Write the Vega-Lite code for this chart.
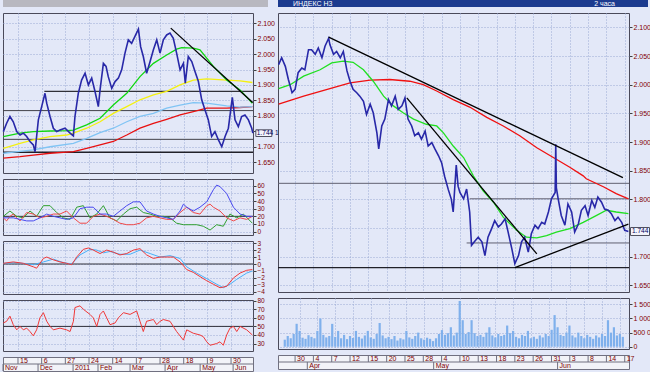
{
"$schema":"https://vega.github.io/schema/vega-lite/v6.json",
"background":"#e3e8f8",
"padding":{"left":-1,"top":-3,"right":0,"bottom":0},
"autosize":{"type":"pad"},
"config":{
 "font":"Liberation Sans",
 "view":{"fill":"#e3e8f8","stroke":"#4a4a5a","strokeWidth":1},
 "axis":{"labelColor":"#800000","labelFontSize":7,"labelFont":"Liberation Sans","tickSize":3,"tickColor":"#404040","gridColor":"#9aaad4","gridDash":[1,2],"gridOpacity":1,"domain":false,"labelPadding":1,"labelOverlap":false,"labelBound":false},
 "axisX":{"labels":false,"ticks":false,"grid":true},
 "axisY":{"grid":true},
 "line":{"strokeWidth":1,"clip":true},
 "rule":{"clip":true}
},
"datasets":{
 "lp":[{"t":-9.3,"v":1.749},{"t":-7.2,"v":1.776},{"t":-5.1,"v":1.798},{"t":-3.0,"v":1.781},{"t":-0.8,"v":1.749},{"t":1.3,"v":1.738},{"t":3.4,"v":1.744},{"t":5.5,"v":1.733},{"t":7.6,"v":1.717},{"t":9.7,"v":1.706},{"t":10.8,"v":1.684},{"t":11.8,"v":1.733},{"t":12.9,"v":1.787},{"t":15.0,"v":1.830},{"t":17.1,"v":1.873},{"t":18.2,"v":1.841},{"t":20.3,"v":1.798},{"t":22.4,"v":1.760},{"t":24.5,"v":1.749},{"t":26.6,"v":1.754},{"t":29.8,"v":1.760},{"t":33.0,"v":1.744},{"t":35.1,"v":1.735},{"t":36.1,"v":1.798},{"t":38.2,"v":1.873},{"t":40.3,"v":1.916},{"t":42.5,"v":1.938},{"t":44.6,"v":1.900},{"t":46.7,"v":1.922},{"t":48.8,"v":1.879},{"t":50.9,"v":1.830},{"t":52.0,"v":1.884},{"t":54.1,"v":1.970},{"t":55.8,"v":1.960},{"t":57.2,"v":1.927},{"t":59.4,"v":1.889},{"t":61.5,"v":1.911},{"t":63.6,"v":1.922},{"t":65.7,"v":1.949},{"t":67.8,"v":2.003},{"t":69.9,"v":2.046},{"t":72.0,"v":2.035},{"t":74.1,"v":2.057},{"t":76.3,"v":2.081},{"t":77.7,"v":2.024},{"t":79.4,"v":1.992},{"t":81.5,"v":1.938},{"t":83.7,"v":1.976},{"t":85.8,"v":2.014},{"t":87.9,"v":2.046},{"t":90.0,"v":2.003},{"t":92.1,"v":2.046},{"t":94.2,"v":2.062},{"t":96.3,"v":2.068},{"t":98.4,"v":2.051},{"t":100.5,"v":2.003},{"t":102.7,"v":1.949},{"t":104.8,"v":1.970},{"t":106.0,"v":1.906},{"t":107.9,"v":1.992},{"t":110.1,"v":1.976},{"t":112.2,"v":1.943},{"t":114.3,"v":1.911},{"t":116.4,"v":1.852},{"t":118.5,"v":1.819},{"t":120.6,"v":1.787},{"t":122.7,"v":1.733},{"t":124.8,"v":1.749},{"t":127.0,"v":1.722},{"t":129.1,"v":1.700},{"t":131.2,"v":1.733},{"t":133.3,"v":1.760},{"t":135.8,"v":1.860},{"t":137.5,"v":1.787},{"t":139.6,"v":1.765},{"t":141.7,"v":1.798},{"t":143.8,"v":1.803},{"t":146.0,"v":1.787},{"t":148.1,"v":1.760},{"t":148.8,"v":1.744}],
 "lg":[{"t":-9.3,"v":1.733},{"t":1.3,"v":1.744},{"t":9.7,"v":1.749},{"t":20.3,"v":1.751},{"t":30.8,"v":1.752},{"t":35.1,"v":1.754},{"t":43.5,"v":1.771},{"t":52.0,"v":1.792},{"t":60.4,"v":1.835},{"t":68.9,"v":1.873},{"t":77.3,"v":1.927},{"t":85.8,"v":1.970},{"t":94.2,"v":1.997},{"t":100.5,"v":2.016},{"t":103.7,"v":2.021},{"t":111.1,"v":2.019},{"t":115.3,"v":2.014},{"t":123.8,"v":1.960},{"t":132.2,"v":1.916},{"t":140.7,"v":1.884},{"t":148.5,"v":1.841}],
 "ly":[{"t":-9.3,"v":1.695},{"t":1.3,"v":1.711},{"t":9.7,"v":1.722},{"t":20.3,"v":1.733},{"t":30.8,"v":1.738},{"t":35.1,"v":1.744},{"t":43.5,"v":1.760},{"t":52.0,"v":1.781},{"t":60.4,"v":1.808},{"t":68.9,"v":1.830},{"t":77.3,"v":1.852},{"t":85.8,"v":1.868},{"t":94.2,"v":1.879},{"t":102.7,"v":1.900},{"t":111.1,"v":1.916},{"t":119.6,"v":1.920},{"t":132.2,"v":1.916},{"t":140.7,"v":1.913},{"t":148.5,"v":1.908}],
 "lb":[{"t":-9.3,"v":1.679},{"t":9.7,"v":1.690},{"t":20.3,"v":1.700},{"t":35.1,"v":1.711},{"t":43.5,"v":1.727},{"t":52.0,"v":1.746},{"t":60.4,"v":1.760},{"t":68.9,"v":1.781},{"t":77.3,"v":1.798},{"t":85.8,"v":1.808},{"t":94.2,"v":1.825},{"t":102.7,"v":1.835},{"t":111.1,"v":1.843},{"t":119.6,"v":1.841},{"t":132.2,"v":1.832},{"t":140.7,"v":1.828},{"t":148.5,"v":1.830}],
 "lr":[{"t":-9.3,"v":1.663},{"t":1.3,"v":1.668},{"t":9.7,"v":1.673},{"t":20.3,"v":1.679},{"t":35.1,"v":1.684},{"t":43.5,"v":1.695},{"t":52.0,"v":1.706},{"t":60.4,"v":1.717},{"t":68.9,"v":1.738},{"t":77.3,"v":1.760},{"t":85.8,"v":1.776},{"t":94.2,"v":1.789},{"t":102.7,"v":1.803},{"t":111.1,"v":1.814},{"t":119.6,"v":1.825},{"t":132.2,"v":1.825},{"t":140.7,"v":1.827},{"t":148.5,"v":1.830}],
 "osb":[{"t":-9.3,"v":18},{"t":-3.0,"v":18},{"t":1.3,"v":16},{"t":5.5,"v":14},{"t":9.7,"v":14},{"t":13.9,"v":18},{"t":18.2,"v":23},{"t":22.4,"v":20},{"t":26.6,"v":18},{"t":30.8,"v":16},{"t":35.1,"v":18},{"t":39.3,"v":30},{"t":43.5,"v":32},{"t":47.7,"v":32},{"t":52.0,"v":23},{"t":56.2,"v":23},{"t":60.4,"v":20},{"t":64.6,"v":27},{"t":68.9,"v":34},{"t":73.1,"v":39},{"t":77.3,"v":39},{"t":81.5,"v":27},{"t":85.8,"v":23},{"t":90.0,"v":20},{"t":94.2,"v":18},{"t":98.4,"v":16},{"t":102.7,"v":27},{"t":104.8,"v":36},{"t":106.9,"v":32},{"t":111.1,"v":27},{"t":115.3,"v":32},{"t":119.6,"v":39},{"t":123.8,"v":55},{"t":125.9,"v":61},{"t":128.0,"v":59},{"t":132.2,"v":50},{"t":136.5,"v":32},{"t":140.7,"v":23},{"t":144.9,"v":20},{"t":148.5,"v":20}],
 "osr":[{"t":-9.3,"v":18},{"t":-7.2,"v":14},{"t":-5.1,"v":20},{"t":-3.0,"v":23},{"t":-0.8,"v":18},{"t":1.3,"v":14},{"t":5.5,"v":25},{"t":9.7,"v":23},{"t":13.9,"v":18},{"t":18.2,"v":20},{"t":22.4,"v":23},{"t":26.6,"v":23},{"t":30.8,"v":27},{"t":35.1,"v":18},{"t":39.3,"v":11},{"t":43.5,"v":11},{"t":47.7,"v":20},{"t":52.0,"v":23},{"t":56.2,"v":20},{"t":60.4,"v":16},{"t":64.6,"v":11},{"t":68.9,"v":9},{"t":73.1,"v":9},{"t":77.3,"v":11},{"t":81.5,"v":18},{"t":85.8,"v":20},{"t":90.0,"v":18},{"t":94.2,"v":16},{"t":98.4,"v":16},{"t":102.7,"v":25},{"t":106.9,"v":32},{"t":111.1,"v":25},{"t":115.3,"v":23},{"t":119.6,"v":34},{"t":121.7,"v":36},{"t":123.8,"v":32},{"t":128.0,"v":27},{"t":132.2,"v":18},{"t":136.5,"v":14},{"t":140.7,"v":18},{"t":144.9,"v":16},{"t":148.5,"v":20}],
 "osg":[{"t":-9.3,"v":20},{"t":-5.1,"v":27},{"t":-0.8,"v":20},{"t":3.4,"v":18},{"t":7.6,"v":27},{"t":11.8,"v":20},{"t":16.1,"v":34},{"t":20.3,"v":34},{"t":24.5,"v":25},{"t":28.7,"v":18},{"t":33.0,"v":16},{"t":37.2,"v":32},{"t":41.4,"v":34},{"t":45.6,"v":18},{"t":49.9,"v":23},{"t":54.1,"v":34},{"t":58.3,"v":18},{"t":62.5,"v":14},{"t":66.8,"v":23},{"t":71.0,"v":30},{"t":75.2,"v":32},{"t":79.4,"v":25},{"t":83.7,"v":23},{"t":87.9,"v":20},{"t":92.1,"v":20},{"t":96.3,"v":18},{"t":100.5,"v":11},{"t":104.8,"v":9},{"t":109.0,"v":9},{"t":113.2,"v":9},{"t":117.4,"v":7},{"t":121.7,"v":2},{"t":125.9,"v":9},{"t":130.1,"v":7},{"t":134.3,"v":23},{"t":138.6,"v":18},{"t":142.8,"v":23},{"t":148.5,"v":11}],
 "mr":[{"t":-9.3,"v":0.1},{"t":-3.0,"v":0.3},{"t":3.4,"v":0.1},{"t":9.7,"v":-0.4},{"t":11.8,"v":-0.6},{"t":16.1,"v":0.8},{"t":18.2,"v":1.0},{"t":22.4,"v":0.6},{"t":26.6,"v":0.3},{"t":30.8,"v":0.1},{"t":34.0,"v":-0.1},{"t":37.2,"v":1.0},{"t":41.4,"v":2.1},{"t":44.6,"v":2.3},{"t":47.7,"v":2.0},{"t":52.0,"v":1.5},{"t":56.2,"v":2.0},{"t":60.4,"v":1.7},{"t":64.6,"v":1.3},{"t":68.9,"v":1.5},{"t":73.1,"v":2.0},{"t":77.3,"v":2.2},{"t":81.5,"v":1.3},{"t":85.8,"v":0.8},{"t":90.0,"v":1.0},{"t":94.2,"v":1.0},{"t":98.4,"v":1.0},{"t":102.7,"v":0.3},{"t":106.9,"v":-0.8},{"t":111.1,"v":-1.2},{"t":115.3,"v":-1.8},{"t":119.6,"v":-2.4},{"t":123.8,"v":-2.9},{"t":128.0,"v":-3.4},{"t":132.2,"v":-3.2},{"t":136.5,"v":-2.0},{"t":140.7,"v":-1.3},{"t":144.9,"v":-0.9},{"t":148.5,"v":-0.8}],
 "mb":[{"t":-9.3,"v":0.1},{"t":-0.8,"v":0.2},{"t":9.7,"v":-0.1},{"t":16.1,"v":0.3},{"t":22.4,"v":0.7},{"t":28.7,"v":0.2},{"t":34.0,"v":0.0},{"t":39.3,"v":1.3},{"t":45.6,"v":2.1},{"t":49.9,"v":2.0},{"t":54.1,"v":1.6},{"t":58.3,"v":1.8},{"t":64.6,"v":1.4},{"t":71.0,"v":1.4},{"t":77.3,"v":2.0},{"t":83.7,"v":1.5},{"t":90.0,"v":1.0},{"t":96.3,"v":1.2},{"t":102.7,"v":0.8},{"t":106.9,"v":-0.4},{"t":113.2,"v":-1.3},{"t":119.6,"v":-2.1},{"t":125.9,"v":-2.9},{"t":130.1,"v":-3.4},{"t":134.3,"v":-2.9},{"t":138.6,"v":-2.2},{"t":144.9,"v":-1.3},{"t":148.5,"v":-1.0}],
 "rsi":[{"t":-9.3,"v":54},{"t":-7.2,"v":56},{"t":-5.1,"v":62},{"t":-3.0,"v":52},{"t":-0.8,"v":46},{"t":1.3,"v":50},{"t":3.4,"v":46},{"t":5.5,"v":48},{"t":7.6,"v":44},{"t":9.7,"v":39},{"t":11.8,"v":46},{"t":13.9,"v":60},{"t":16.1,"v":66},{"t":18.2,"v":56},{"t":20.3,"v":50},{"t":22.4,"v":46},{"t":26.6,"v":48},{"t":30.8,"v":46},{"t":33.0,"v":44},{"t":35.1,"v":56},{"t":36.1,"v":72},{"t":39.3,"v":74},{"t":41.4,"v":70},{"t":45.6,"v":64},{"t":47.7,"v":60},{"t":49.9,"v":50},{"t":52.0,"v":64},{"t":54.1,"v":68},{"t":56.2,"v":60},{"t":58.3,"v":52},{"t":61.5,"v":54},{"t":63.6,"v":60},{"t":66.8,"v":66},{"t":71.0,"v":64},{"t":75.2,"v":68},{"t":77.3,"v":56},{"t":79.4,"v":44},{"t":81.5,"v":56},{"t":85.8,"v":58},{"t":87.9,"v":52},{"t":90.0,"v":56},{"t":92.1,"v":58},{"t":96.3,"v":56},{"t":100.5,"v":44},{"t":104.8,"v":34},{"t":106.9,"v":46},{"t":111.1,"v":42},{"t":115.3,"v":40},{"t":117.4,"v":38},{"t":119.6,"v":32},{"t":121.7,"v":28},{"t":125.9,"v":30},{"t":128.0,"v":32},{"t":130.1,"v":28},{"t":132.2,"v":40},{"t":134.3,"v":48},{"t":136.5,"v":50},{"t":138.6,"v":44},{"t":140.7,"v":50},{"t":144.9,"v":46},{"t":148.5,"v":40}],
 "rp":[{"t":-2.7,"v":2.035},{"t":-2.2,"v":2.047},{"t":-1.6,"v":2.032},{"t":-1.1,"v":2.009},{"t":-0.5,"v":1.986},{"t":0,"v":1.992},{"t":0.5,"v":2.021},{"t":1.1,"v":2.029},{"t":1.6,"v":2.026},{"t":2.2,"v":2.061},{"t":2.7,"v":2.061},{"t":3.3,"v":2.053},{"t":3.8,"v":2.064},{"t":4.4,"v":2.047},{"t":4.9,"v":2.067},{"t":5.5,"v":2.081},{"t":5.7,"v":2.070},{"t":6.3,"v":2.053},{"t":6.8,"v":2.058},{"t":7.4,"v":2.047},{"t":7.9,"v":2.058},{"t":8.5,"v":2.024},{"t":9.0,"v":2.006},{"t":9.5,"v":1.992},{"t":10.1,"v":1.986},{"t":10.6,"v":1.980},{"t":11.2,"v":1.971},{"t":11.7,"v":1.948},{"t":12.3,"v":1.966},{"t":12.8,"v":1.951},{"t":13.4,"v":1.916},{"t":13.7,"v":1.888},{"t":14.2,"v":1.928},{"t":14.7,"v":1.940},{"t":15.3,"v":1.974},{"t":15.8,"v":1.963},{"t":16.4,"v":1.980},{"t":16.9,"v":1.957},{"t":17.5,"v":1.963},{"t":18.0,"v":1.977},{"t":18.5,"v":1.940},{"t":19.1,"v":1.928},{"t":19.6,"v":1.911},{"t":20.2,"v":1.916},{"t":20.7,"v":1.905},{"t":21.3,"v":1.919},{"t":21.8,"v":1.893},{"t":22.4,"v":1.899},{"t":22.9,"v":1.888},{"t":23.5,"v":1.876},{"t":24.0,"v":1.864},{"t":24.5,"v":1.840},{"t":25.1,"v":1.817},{"t":25.6,"v":1.800},{"t":25.9,"v":1.778},{"t":26.4,"v":1.860},{"t":26.7,"v":1.823},{"t":27.0,"v":1.812},{"t":27.6,"v":1.801},{"t":28.1,"v":1.818},{"t":28.6,"v":1.778},{"t":28.9,"v":1.720},{"t":29.5,"v":1.728},{"t":30.0,"v":1.734},{"t":30.6,"v":1.726},{"t":31.1,"v":1.702},{"t":31.6,"v":1.734},{"t":32.2,"v":1.749},{"t":32.7,"v":1.763},{"t":33.3,"v":1.752},{"t":33.8,"v":1.757},{"t":34.4,"v":1.766},{"t":34.9,"v":1.743},{"t":35.5,"v":1.714},{"t":36.0,"v":1.688},{"t":36.6,"v":1.702},{"t":37.1,"v":1.726},{"t":37.6,"v":1.734},{"t":38.2,"v":1.708},{"t":38.7,"v":1.740},{"t":39.3,"v":1.755},{"t":39.8,"v":1.749},{"t":40.4,"v":1.760},{"t":40.9,"v":1.757},{"t":41.5,"v":1.778},{"t":42.0,"v":1.801},{"t":42.6,"v":1.812},{"t":42.7,"v":1.896},{"t":42.8,"v":1.820},{"t":43.1,"v":1.801},{"t":43.6,"v":1.772},{"t":44.2,"v":1.755},{"t":44.7,"v":1.792},{"t":45.3,"v":1.778},{"t":45.8,"v":1.743},{"t":46.4,"v":1.757},{"t":46.9,"v":1.781},{"t":47.5,"v":1.789},{"t":48.0,"v":1.772},{"t":48.6,"v":1.798},{"t":49.1,"v":1.786},{"t":49.6,"v":1.804},{"t":50.2,"v":1.795},{"t":50.7,"v":1.783},{"t":51.3,"v":1.781},{"t":51.8,"v":1.775},{"t":52.4,"v":1.763},{"t":52.9,"v":1.769},{"t":53.5,"v":1.760},{"t":54.0,"v":1.746},{"t":54.6,"v":1.744}],
 "rg":[{"t":-2.7,"v":1.993},{"t":-0.8,"v":2.000},{"t":1.4,"v":2.015},{"t":4.1,"v":2.026},{"t":6.0,"v":2.038},{"t":7.9,"v":2.041},{"t":9.5,"v":2.039},{"t":11.2,"v":2.026},{"t":12.8,"v":2.006},{"t":14.5,"v":1.980},{"t":16.1,"v":1.963},{"t":17.7,"v":1.951},{"t":19.4,"v":1.940},{"t":21.5,"v":1.931},{"t":23.2,"v":1.928},{"t":24.3,"v":1.916},{"t":25.9,"v":1.893},{"t":27.6,"v":1.873},{"t":29.2,"v":1.841},{"t":30.8,"v":1.815},{"t":32.5,"v":1.795},{"t":34.1,"v":1.769},{"t":36.3,"v":1.746},{"t":37.9,"v":1.734},{"t":39.6,"v":1.733},{"t":41.2,"v":1.737},{"t":42.8,"v":1.743},{"t":45.0,"v":1.749},{"t":47.2,"v":1.760},{"t":49.4,"v":1.772},{"t":51.0,"v":1.781},{"t":52.6,"v":1.778},{"t":54.6,"v":1.775}],
 "rr":[{"t":-2.7,"v":1.966},{"t":1.4,"v":1.980},{"t":5.7,"v":1.993},{"t":9.0,"v":2.003},{"t":12.3,"v":2.008},{"t":15.5,"v":2.009},{"t":18.8,"v":2.006},{"t":21.0,"v":2.000},{"t":23.2,"v":1.989},{"t":25.9,"v":1.974},{"t":28.6,"v":1.961},{"t":31.4,"v":1.943},{"t":34.1,"v":1.928},{"t":36.8,"v":1.911},{"t":39.6,"v":1.890},{"t":42.3,"v":1.873},{"t":45.0,"v":1.856},{"t":47.2,"v":1.841},{"t":47.7,"v":1.836},{"t":50.5,"v":1.822},{"t":52.6,"v":1.810},{"t":54.6,"v":1.801}],
 "vol":[{"t":-2.5,"v":250000},{"t":-2.0,"v":380000},{"t":-1.5,"v":300000},{"t":-1.0,"v":450000},{"t":-0.5,"v":812000},{"t":0,"v":560000},{"t":0.5,"v":320000},{"t":1.0,"v":280000},{"t":1.5,"v":410000},{"t":2.0,"v":350000},{"t":2.5,"v":300000},{"t":3.0,"v":560000},{"t":3.5,"v":1000000},{"t":4.0,"v":420000},{"t":4.5,"v":330000},{"t":5.0,"v":380000},{"t":5.5,"v":810000},{"t":6.0,"v":350000},{"t":6.5,"v":560000},{"t":7.0,"v":300000},{"t":7.5,"v":420000},{"t":8.0,"v":270000},{"t":8.5,"v":380000},{"t":9.0,"v":310000},{"t":9.5,"v":560000},{"t":10.0,"v":350000},{"t":10.5,"v":290000},{"t":11.0,"v":400000},{"t":11.5,"v":560000},{"t":12.0,"v":330000},{"t":12.5,"v":280000},{"t":13.0,"v":450000},{"t":13.5,"v":840000},{"t":14.0,"v":400000},{"t":14.5,"v":300000},{"t":15.0,"v":350000},{"t":15.5,"v":270000},{"t":16.0,"v":380000},{"t":16.5,"v":220000},{"t":17.0,"v":300000},{"t":17.5,"v":260000},{"t":18.0,"v":560000},{"t":18.5,"v":330000},{"t":19.0,"v":280000},{"t":19.5,"v":380000},{"t":20.0,"v":500000},{"t":20.5,"v":300000},{"t":21.0,"v":250000},{"t":21.5,"v":320000},{"t":22.0,"v":280000},{"t":22.5,"v":200000},{"t":23.0,"v":300000},{"t":23.5,"v":450000},{"t":24.0,"v":590000},{"t":24.5,"v":420000},{"t":25.0,"v":480000},{"t":25.5,"v":690000},{"t":26.0,"v":400000},{"t":26.5,"v":500000},{"t":27.0,"v":1620000},{"t":27.5,"v":940000},{"t":28.0,"v":450000},{"t":28.5,"v":520000},{"t":29.0,"v":940000},{"t":29.5,"v":480000},{"t":30.0,"v":380000},{"t":30.5,"v":420000},{"t":31.0,"v":350000},{"t":31.5,"v":500000},{"t":32.0,"v":690000},{"t":32.5,"v":400000},{"t":33.0,"v":330000},{"t":33.5,"v":450000},{"t":34.0,"v":380000},{"t":34.5,"v":420000},{"t":35.0,"v":750000},{"t":35.5,"v":480000},{"t":36.0,"v":560000},{"t":36.5,"v":350000},{"t":37.0,"v":300000},{"t":37.5,"v":420000},{"t":38.0,"v":380000},{"t":38.5,"v":560000},{"t":39.0,"v":300000},{"t":39.5,"v":350000},{"t":40.0,"v":280000},{"t":40.5,"v":400000},{"t":41.0,"v":330000},{"t":41.5,"v":450000},{"t":42.0,"v":380000},{"t":42.5,"v":600000},{"t":43.0,"v":1120000},{"t":43.5,"v":690000},{"t":44.0,"v":420000},{"t":44.5,"v":380000},{"t":45.0,"v":500000},{"t":45.5,"v":750000},{"t":46.0,"v":400000},{"t":46.5,"v":330000},{"t":47.0,"v":500000},{"t":47.5,"v":380000},{"t":48.0,"v":300000},{"t":48.5,"v":420000},{"t":49.0,"v":350000},{"t":49.5,"v":280000},{"t":50.0,"v":400000},{"t":50.5,"v":330000},{"t":51.0,"v":450000},{"t":51.5,"v":380000},{"t":52.0,"v":940000},{"t":52.5,"v":500000},{"t":53.0,"v":690000},{"t":53.5,"v":400000},{"t":54.0,"v":450000},{"t":54.5,"v":350000}],
 "ldays":[{"t":0,"label":"15"},{"t":15,"label":"6"},{"t":30,"label":"27"},{"t":45,"label":"24"},{"t":60,"label":"14"},{"t":75,"label":"7"},{"t":90,"label":"28"},{"t":105,"label":"18"},{"t":120,"label":"9"},{"t":135,"label":"30"}],
 "lmonths":[{"t":-9.5,"label":"Nov"},{"t":12.7,"label":"Dec"},{"t":34.9,"label":"2011"},{"t":50.7,"label":"Feb"},{"t":71,"label":"Mar"},{"t":93.2,"label":"Apr"},{"t":115.4,"label":"May"},{"t":136.3,"label":"Jun"}],
 "rdays":[{"t":0,"label":"30"},{"t":3,"label":"4"},{"t":6,"label":"7"},{"t":9,"label":"12"},{"t":12,"label":"15"},{"t":15,"label":"20"},{"t":18,"label":"25"},{"t":21,"label":"28"},{"t":24,"label":"4"},{"t":27,"label":"10"},{"t":30,"label":"13"},{"t":33,"label":"18"},{"t":36,"label":"23"},{"t":39,"label":"26"},{"t":42,"label":"31"},{"t":45,"label":"3"},{"t":48,"label":"8"},{"t":51,"label":"14"},{"t":54,"label":"17"}],
 "rmonths":[{"t":2,"label":"Apr"},{"t":22.7,"label":"May"},{"t":43,"label":"Jun"}]
},
"spacing":275,
"bounds":"flush",
"hconcat":[
 {"spacing":6,"bounds":"flush","vconcat":[
  {"width":265,"height":7,"view":{"fill":"#b8b8c0","stroke":null},"data":{"values":[{"a":1}]},"mark":{"type":"text","text":" "},"encoding":{}},
  {"width":250,"height":160,
   "encoding":{"x":{"field":"t","type":"quantitative","scale":{"domain":[-9.5,148.9],"nice":false,"zero":false},"axis":{"values":[0,15,30,45,60,75,90,105,120,135],"title":null}},"y":{"field":"v","type":"quantitative","scale":{"domain":[1.615,2.133],"nice":false,"zero":false},"axis":{"orient":"right","values":[1.65,1.7,1.75,1.8,1.85,1.9,1.95,2.0,2.05,2.1],"labelExpr":"abs(datum.value-1.75)<0.001 ? '' : format(datum.value,'.3f')","labelOverlap":false,"title":null}}},
   "layer":[
   {"data":{"values":[{"t":-9.5,"t2":148.9,"v":1.817},{"t":-9.5,"t2":148.9,"v":1.724}]},"mark":{"type":"rule","color":"#404048","strokeWidth":1},"encoding":{"x2":{"field":"t2"}}},
   {"data":{"values":[{"t":-9.5,"t2":148.9,"v":1.682}]},"mark":{"type":"rule","color":"#202028","strokeWidth":1.6},"encoding":{"x2":{"field":"t2"}}},
   {"data":{"values":[{"t":16.7,"t2":148.9,"v":1.879}]},"mark":{"type":"rule","color":"#303038","strokeWidth":1.3},"encoding":{"x2":{"field":"t2"}}},
   {"data":{"name":"lr"},"mark":{"type":"line","color":"#e81010","strokeWidth":1.3},"encoding":{}},
   {"data":{"name":"lb"},"mark":{"type":"line","color":"#80c4f4","strokeWidth":1.3},"encoding":{}},
   {"data":{"name":"ly"},"mark":{"type":"line","color":"#f4f010","strokeWidth":1.3},"encoding":{}},
   {"data":{"name":"lg"},"mark":{"type":"line","color":"#10d810","strokeWidth":1.3},"encoding":{}},
   {"data":{"name":"lp"},"mark":{"type":"line","color":"#2828a8","strokeWidth":1.6},"encoding":{}},
   {"data":{"values":[{"t":96.8,"v":2.084},{"t":148.7,"v":1.843}]},"mark":{"type":"line","color":"#000000","strokeWidth":1.3},"encoding":{}},
   {"data":{"values":[{"t":148.8,"v":1.744,"label":"1.744 1"}]},"mark":{"type":"point","shape":"M-1,-0.42H1V0.42H-1Z","size":256,"filled":true,"fill":"#f4f4fc","stroke":"#505060","strokeWidth":1,"opacity":1,"xOffset":11},"encoding":{}},
   {"data":{"values":[{"t":148.8,"v":1.744,"label":"1.744 1"}]},"mark":{"type":"text","align":"left","baseline":"middle","dx":4,"fontSize":6.5,"color":"#000060"},"encoding":{"text":{"field":"label"}}}
  ]},
  {"width":250,"height":56,
   "encoding":{"x":{"field":"t","type":"quantitative","scale":{"domain":[-9.5,148.9],"nice":false,"zero":false},"axis":{"values":[0,15,30,45,60,75,90,105,120,135],"title":null}},"y":{"field":"v","type":"quantitative","scale":{"domain":[-4.5,69],"nice":false,"zero":false},"axis":{"orient":"right","values":[0,10,20,30,40,50,60],"labelOverlap":false,"labelFontSize":6.5,"title":null}}},
   "layer":[
   {"data":{"values":[{"t":-9.5,"t2":148.9,"v":20}]},"mark":{"type":"rule","color":"#303038"},"encoding":{"x2":{"field":"t2"}}},
   {"data":{"name":"osg"},"mark":{"type":"line","color":"#30a030"},"encoding":{}},
   {"data":{"name":"osr"},"mark":{"type":"line","color":"#f04848"},"encoding":{}},
   {"data":{"name":"osb"},"mark":{"type":"line","color":"#4848f0"},"encoding":{}}
  ]},
  {"width":250,"height":53,
   "encoding":{"x":{"field":"t","type":"quantitative","scale":{"domain":[-9.5,148.9],"nice":false,"zero":false},"axis":{"values":[0,15,30,45,60,75,90,105,120,135],"title":null}},"y":{"field":"v","type":"quantitative","scale":{"domain":[-4.3,3.3],"nice":false,"zero":false},"axis":{"orient":"right","values":[-4,-3,-2,-1,0,1,2,3],"labelOverlap":false,"labelFontSize":6.5,"title":null}}},
   "layer":[
   {"data":{"values":[{"t":-9.5,"t2":148.9,"v":0}]},"mark":{"type":"rule","color":"#303038"},"encoding":{"x2":{"field":"t2"}}},
   {"data":{"name":"mb"},"mark":{"type":"line","color":"#48b0f8"},"encoding":{}},
   {"data":{"name":"mr"},"mark":{"type":"line","color":"#f03838"},"encoding":{}}
  ]},
  {"width":250,"height":51,
   "encoding":{"x":{"field":"t","type":"quantitative","scale":{"domain":[-9.5,148.9],"nice":false,"zero":false},"axis":{"values":[0,15,30,45,60,75,90,105,120,135],"title":null}},"y":{"field":"v","type":"quantitative","scale":{"domain":[21.3,80.8],"nice":false,"zero":false},"axis":{"orient":"right","values":[30,40,50,60,70,80],"labelOverlap":false,"labelFontSize":6.5,"title":null}}},
   "layer":[
   {"data":{"values":[{"t":-9.5,"t2":148.9,"v":50}]},"mark":{"type":"rule","color":"#303038"},"encoding":{"x2":{"field":"t2"}}},
   {"data":{"name":"rsi"},"mark":{"type":"line","color":"#f03838"},"encoding":{}}
  ]},
  {"width":250,"height":14,"view":{"fill":"#f2f3f8","stroke":"#707080"},"layer":[
   {"data":{"name":"ldays"},"mark":{"type":"rule","color":"#707080"},"encoding":{"x":{"field":"t","type":"quantitative","scale":{"domain":[-9.5,148.9],"nice":false,"zero":false},"axis":null},"y":{"datum":1,"type":"quantitative","scale":{"domain":[0,2],"nice":false,"zero":false},"axis":null},"y2":{"datum":2}}},
   {"data":{"name":"ldays"},"mark":{"type":"text","align":"left","baseline":"middle","dx":2,"fontSize":7,"color":"#800000"},"encoding":{"x":{"field":"t","type":"quantitative"},"y":{"datum":1.5,"type":"quantitative"},"text":{"field":"label"}}},
   {"data":{"name":"lmonths"},"mark":{"type":"rule","color":"#707080"},"encoding":{"x":{"field":"t","type":"quantitative"},"y":{"datum":0,"type":"quantitative"},"y2":{"datum":1}}},
   {"data":{"name":"lmonths"},"mark":{"type":"text","align":"left","baseline":"middle","dx":2,"fontSize":7,"color":"#800000"},"encoding":{"x":{"field":"t","type":"quantitative"},"y":{"datum":0.5,"type":"quantitative"},"text":{"field":"label"}}},
   {"data":{"values":[{"a":1}]},"mark":{"type":"rule","color":"#707080"},"encoding":{"y":{"datum":1,"type":"quantitative"}}}
  ]}
 ]},
 {"spacing":6,"bounds":"flush","vconcat":[
  {"width":370,"height":7,"view":{"fill":"#1c3b8f","stroke":null},"data":{"values":[{"l":"ИНДЕКС    H3","r":"2 часа"}]},"layer":[
   {"mark":{"type":"text","align":"left","baseline":"middle","dx":-170,"fontSize":7,"color":"#ffffff"},"encoding":{"text":{"field":"l"}}},
   {"mark":{"type":"text","align":"right","baseline":"middle","dx":152,"fontSize":7,"color":"#ffffff"},"encoding":{"text":{"field":"r"}}}
  ]},
  {"width":351,"height":279,
   "encoding":{"x":{"field":"t","type":"quantitative","scale":{"domain":[-2.8,54.7],"nice":false,"zero":false},"axis":{"values":[0,3,6,9,12,15,18,21,24,27,30,33,36,39,42,45,48,51,54],"title":null}},"y":{"field":"v","type":"quantitative","scale":{"domain":[1.6385,2.125],"nice":false,"zero":false},"axis":{"orient":"right","values":[1.65,1.7,1.75,1.8,1.85,1.9,1.95,2.0,2.05,2.1],"labelExpr":"abs(datum.value-1.75)<0.001 ? '' : format(datum.value,'.3f')","labelOverlap":false,"title":null}}},
   "layer":[
   {"data":{"values":[{"t":-2.8,"t2":54.7,"v":1.681}]},"mark":{"type":"rule","color":"#202028","strokeWidth":1.4},"encoding":{"x2":{"field":"t2"}}},
   {"data":{"values":[{"t":-2.8,"t2":54.7,"v":1.828},{"t":28.6,"t2":54.7,"v":1.801},{"t":28.1,"t2":54.7,"v":1.724}]},"mark":{"type":"rule","color":"#606070","strokeWidth":1},"encoding":{"x2":{"field":"t2"}}},
   {"data":{"name":"rr"},"mark":{"type":"line","color":"#f01010","strokeWidth":1.3},"encoding":{}},
   {"data":{"name":"rg"},"mark":{"type":"line","color":"#20e020","strokeWidth":1.3},"encoding":{}},
   {"data":{"name":"rp"},"mark":{"type":"line","color":"#2828a8","strokeWidth":1.6},"encoding":{}},
   {"data":{"values":[{"t":5.5,"v":2.083,"k":"a"},{"t":53.7,"v":1.838,"k":"a"},{"t":18.3,"v":1.977,"k":"b"},{"t":39.6,"v":1.705,"k":"b"},{"t":36.0,"v":1.681,"k":"c"},{"t":54.6,"v":1.757,"k":"c"}]},"mark":{"type":"line","color":"#000000","strokeWidth":1.3},"encoding":{"detail":{"field":"k"}}},
   {"data":{"values":[{"t":54.7,"v":1.744,"label":"1.744 1"}]},"mark":{"type":"point","shape":"M-1,-0.42H1V0.42H-1Z","size":361,"filled":true,"fill":"#f4f4fc","stroke":"#505060","strokeWidth":1,"opacity":1,"xOffset":11},"encoding":{}},
   {"data":{"values":[{"t":54.7,"v":1.744,"label":"1.744 1"}]},"mark":{"type":"text","align":"left","baseline":"middle","dx":3,"fontSize":6.5,"color":"#000060"},"encoding":{"text":{"field":"label"}}}
  ]},
  {"width":351,"height":51,"data":{"name":"vol"},"mark":{"type":"bar","color":"#7fb0ec","width":2.2,"clip":true},"encoding":{"x":{"field":"t","type":"quantitative","scale":{"domain":[-2.8,54.7],"nice":false,"zero":false},"axis":{"values":[0,3,6,9,12,15,18,21,24,27,30,33,36,39,42,45,48,51,54],"title":null}},"y":{"field":"v","type":"quantitative","scale":{"domain":[-80000,1725000],"nice":false,"zero":false},"axis":{"orient":"right","values":[0,500000,1000000,1500000],"labelOverlap":false,"labelExpr":"replace(replace(format(datum.value,',d'),',',' '),',',' ')","title":null}}}},
  {"width":351,"height":14,"view":{"fill":"#f2f3f8","stroke":"#707080"},"layer":[
   {"data":{"name":"rdays"},"mark":{"type":"rule","color":"#707080"},"encoding":{"x":{"field":"t","type":"quantitative","scale":{"domain":[-2.8,54.7],"nice":false,"zero":false},"axis":null},"y":{"datum":1,"type":"quantitative","scale":{"domain":[0,2],"nice":false,"zero":false},"axis":null},"y2":{"datum":2}}},
   {"data":{"name":"rdays"},"mark":{"type":"text","align":"left","baseline":"middle","dx":2,"fontSize":7,"color":"#800000"},"encoding":{"x":{"field":"t","type":"quantitative"},"y":{"datum":1.5,"type":"quantitative"},"text":{"field":"label"}}},
   {"data":{"name":"rmonths"},"mark":{"type":"rule","color":"#707080"},"encoding":{"x":{"field":"t","type":"quantitative"},"y":{"datum":0,"type":"quantitative"},"y2":{"datum":1}}},
   {"data":{"name":"rmonths"},"mark":{"type":"text","align":"left","baseline":"middle","dx":2,"fontSize":7,"color":"#800000"},"encoding":{"x":{"field":"t","type":"quantitative"},"y":{"datum":0.5,"type":"quantitative"},"text":{"field":"label"}}},
   {"data":{"values":[{"a":1}]},"mark":{"type":"rule","color":"#707080"},"encoding":{"y":{"datum":1,"type":"quantitative"}}}
  ]}
 ]}
]
}
